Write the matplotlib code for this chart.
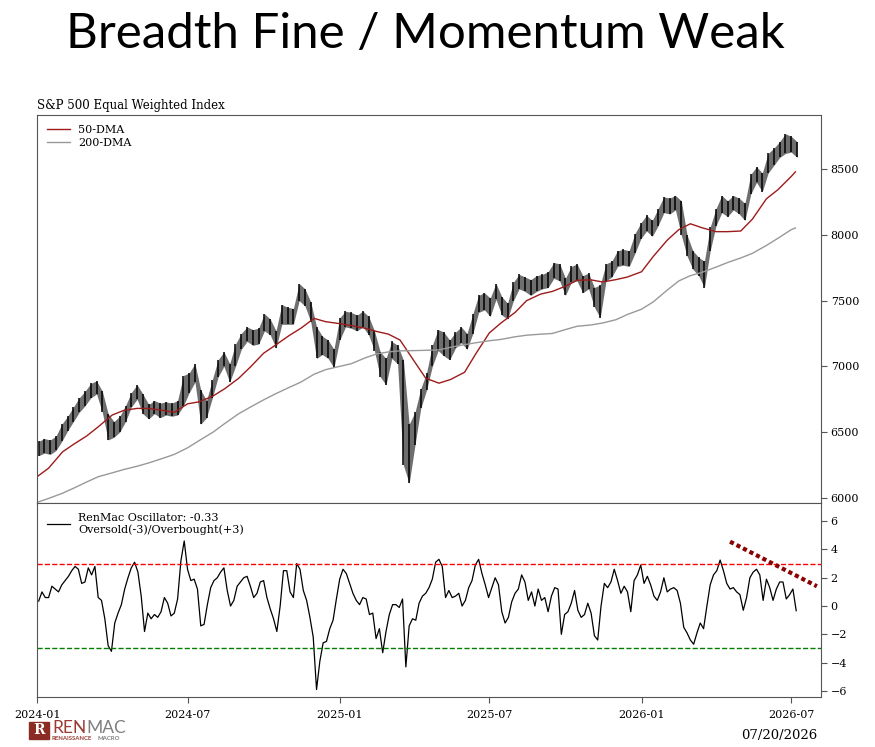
import pandas as pd
import matplotlib
matplotlib.use('Agg')
import matplotlib.pyplot as plt
import matplotlib.dates as mdates
from matplotlib.patches import Rectangle

plt.rcParams['font.family'] = ['DejaVu Serif']

# weekly bars (stamped on the Wednesday), S&P 500 equal weighted index
week_dates = pd.date_range('2024-01-03', periods=132, freq='W-WED')
week_high = [6430, 6450, 6440, 6470, 6560, 6620, 6690, 6760, 6810, 6870,
             6890, 6810, 6640, 6580, 6620, 6700, 6800, 6860, 6790, 6710,
             6740, 6720, 6730, 6720, 6740, 6930, 6950, 7020, 6820, 6740,
             6900, 7050, 7110, 7020, 7170, 7250, 7300, 7280, 7290, 7400,
             7360, 7270, 7470, 7450, 7440, 7630, 7590, 7490, 7300, 7230,
             7200, 7130, 7370, 7420, 7410, 7390, 7420, 7380, 7270, 7110,
             7060, 7190, 7160, 7050, 6560, 6650, 6830, 6950, 7160, 7280,
             7260, 7200, 7260, 7300, 7250, 7400, 7540, 7560, 7520, 7630,
             7530, 7480, 7640, 7700, 7680, 7660, 7690, 7700, 7720, 7790,
             7780, 7670, 7760, 7780, 7690, 7710, 7600, 7620, 7780, 7800,
             7880, 7890, 7880, 8010, 8090, 8150, 8110, 8200, 8290, 8280,
             8300, 8260, 8000, 7880, 7830, 7800, 8060, 8200, 8300, 8260,
             8300, 8280, 8240, 8460, 8520, 8470, 8620, 8660, 8710, 8770,
             8750, 8710]
week_low = [6320, 6340, 6330, 6360, 6430, 6510, 6580, 6650, 6700, 6760,
            6790, 6650, 6440, 6460, 6500, 6580, 6690, 6750, 6640, 6600,
            6640, 6610, 6630, 6620, 6630, 6700, 6800, 6880, 6560, 6610,
            6760, 6920, 7000, 6880, 7000, 7130, 7190, 7160, 7170, 7270,
            7240, 7140, 7320, 7320, 7320, 7500, 7460, 7340, 7060, 7090,
            7060, 6990, 7200, 7300, 7290, 7270, 7300, 7240, 7120, 6920,
            6860, 7060, 7020, 6250, 6110, 6400, 6680, 6820, 7000, 7120,
            7080, 7050, 7140, 7180, 7130, 7250, 7410, 7430, 7380, 7510,
            7390, 7360, 7500, 7590, 7570, 7540, 7570, 7590, 7600, 7670,
            7650, 7540, 7640, 7650, 7560, 7590, 7450, 7370, 7650, 7680,
            7760, 7770, 7760, 7860, 7970, 8030, 7990, 8070, 8170, 8160,
            8190, 8000, 7840, 7740, 7690, 7600, 7880, 8070, 8170, 8140,
            8190, 8160, 8110, 8310, 8400, 8330, 8470, 8530, 8590, 8620,
            8630, 8590]

# moving averages, read twice a month
ma_dates = list(pd.date_range('2024-01-01', '2026-07-01', freq='SMS')) + [pd.Timestamp('2026-07-06')]
ma50 = [6160, 6225, 6350, 6410, 6470, 6540, 6630, 6665, 6680, 6680, 6665, 6650,
        6715, 6730, 6775, 6830, 6910, 6995, 7100, 7160, 7235, 7290, 7365, 7340,
        7325, 7310, 7290, 7265, 7245, 7200, 7040, 6910, 6872, 6900, 6955, 7100,
        7255, 7330, 7410, 7500, 7550, 7570, 7610, 7655, 7658, 7642, 7660, 7680,
        7720, 7835, 7960, 8040, 8085, 8055, 8025, 8025, 8030, 8120, 8275, 8345,
        8445, 8480]
ma200 = [5965, 5995, 6035, 6075, 6120, 6160, 6190, 6215, 6240, 6265, 6300, 6330,
         6380, 6435, 6500, 6565, 6640, 6690, 6745, 6790, 6840, 6880, 6940, 6975,
         7000, 7020, 7065, 7095, 7110, 7118, 7120, 7122, 7125, 7145, 7165, 7180,
         7195, 7205, 7225, 7237, 7245, 7250, 7280, 7305, 7315, 7330, 7355, 7395,
         7435, 7490, 7580, 7650, 7690, 7715, 7755, 7790, 7825, 7860, 7920, 7975,
         8040, 8053]

# RenMac oscillator, read every 4 days
osc_dates = pd.date_range('2024-01-03', periods=230, freq='4D')
osc = [0.35, 1.0, 0.6, 0.6, 1.4, 1.2, 1.0, 1.5, 1.8, 2.1,
       2.5, 2.8, 2.6, 1.6, 1.7, 2.7, 2.2, 2.8, 0.6, 0.4,
       -0.9, -2.8, -3.2, -1.2, -0.5, 0.1, 1.2, 2.0, 2.7, 3.1,
       2.4, 0.7, -1.8, -0.5, -0.9, -0.6, -0.8, -0.4, 0.6, 0.2,
       -0.7, -0.5, 0.5, 3.2, 4.6, 2.6, 1.8, 1.9, 1.2, -1.4,
       -1.3, 0.1, 1.3, 1.8, 2.0, 2.4, 2.7, 1.1, 0.0, 0.4,
       1.4, 1.7, 2.0, 2.1, 1.4, 0.6, 0.9, 1.7, 1.8, 0.6,
       -0.2, -0.9, -1.8, 0.0, 2.5, 2.5, 1.0, 0.6, 3.0, 2.6,
       1.1, 0.4, -0.8, -2.2, -5.9, -3.9, -2.6, -2.5, -1.6, -1.0,
       0.5, 1.9, 2.6, 2.3, 1.6, 0.9, 0.4, 0.1, 0.6, 0.5,
       -0.6, -0.5, -2.3, -1.6, -3.3, -1.8, -0.6, 0.1, 0.1, -0.1,
       0.5, -4.3, -1.4, -0.9, -1.0, 0.2, 0.7, 0.9, 1.3, 1.9,
       3.1, 3.3, 2.8, 0.6, 1.1, 0.6, 0.7, 0.9, 0.0, 0.4,
       1.3, 1.8, 2.9, 3.3, 2.3, 1.5, 0.6, 1.3, 2.0, 1.5,
       -0.4, -1.2, -0.8, 0.3, 0.9, 1.2, 2.2, 1.7, 0.4, 1.0,
       0.0, 1.2, 0.4, 0.6, -0.4, 0.7, 1.3, 1.2, -2.0, -0.6,
       -0.4, 0.2, 1.1, -0.3, -0.8, -0.6, 0.2, -0.5, -2.1, -2.4,
       0.0, 1.6, 1.3, 1.7, 2.6, 1.8, 0.9, 1.4, 1.0, -0.4,
       1.8, 2.2, 2.9, 1.6, 2.1, 1.5, 0.7, 0.4, 1.0, 2.0,
       1.0, 1.2, 1.3, 1.1, 0.2, -1.5, -1.9, -2.4, -2.7, -1.9,
       -1.2, -1.6, 0.0, 1.5, 2.2, 2.5, 3.25, 2.5, 1.6, 1.2,
       1.3, 1.0, 0.8, -0.3, 0.6, 2.0, 2.4, 2.6, 2.2, 0.4,
       1.9, 1.3, 0.4, 1.2, 1.7, 1.7, 0.5, 0.8, 1.2, -0.33]

# hand drawn falling momentum line
trend_dates = pd.to_datetime(['2026-04-18', '2026-08-01'])
trend_vals = [4.55, 1.4]

spine_col = '#555555'

fig = plt.figure(figsize=(8.75, 7.47), dpi=100)
ax1 = fig.add_axes([0.0423, 0.3266, 0.896, 0.5195])
ax2 = fig.add_axes([0.0423, 0.0669, 0.896, 0.2597], sharex=ax1)

# price panel: weekly range ribbon with thin bars on top
ax1.fill_between(week_dates, week_low, week_high, color='#6e6e6e', lw=0)
ax1.vlines(week_dates, week_low, week_high, color='black', lw=1.1)
ax1.plot(ma_dates, ma50, color='#9e1b1b', lw=1.0, label='50-DMA')
ax1.plot(ma_dates, ma200, color='#999999', lw=1.0, label='200-DMA')
ax1.set_ylim(5960, 8913)
ax1.set_yticks([6000, 6500, 7000, 7500, 8000, 8500])
ax1.legend(loc='upper left', frameon=False, fontsize=8, handlelength=2.1,
           handletextpad=0.7, labelspacing=0.3)
ax1.set_title('S&P 500 Equal Weighted Index', loc='left', fontsize=8.5, pad=4)

# oscillator panel
ax2.plot(osc_dates, osc, color='black', lw=0.9,
         label='RenMac Oscillator: -0.33\nOversold(-3)/Overbought(+3)')
ax2.axhline(3, color='red', ls='--', lw=1)
ax2.axhline(-3, color='green', ls='--', lw=1)
ax2.plot(trend_dates, trend_vals, color='#8b0000', lw=3, ls=(0, (1, 0.75)))
ax2.set_ylim(-6.43, 7.28)
ax2.set_yticks([-6, -4, -2, 0, 2, 4, 6])
ax2.legend(loc='upper left', frameon=False, fontsize=8, handlelength=2.1,
           handletextpad=0.7)

ax2.set_xlim(pd.Timestamp('2024-01-01'), pd.Timestamp('2026-08-06'))
ax2.xaxis.set_major_locator(mdates.MonthLocator(bymonth=[1, 7]))
ax2.xaxis.set_major_formatter(mdates.DateFormatter('%Y-%m'))

for ax in (ax1, ax2):
    ax.yaxis.tick_right()
    ax.tick_params(axis='y', direction='out', length=4, color=spine_col,
                   labelsize=8, pad=3)
    for s in ax.spines.values():
        s.set_color(spine_col)
        s.set_linewidth(0.8)
ax1.tick_params(axis='x', bottom=False, labelbottom=False)
ax2.tick_params(axis='x', direction='out', length=4, color=spine_col,
                labelsize=8, pad=5)

# headline
fig.text(0.486, 0.955, 'Breadth Fine / Momentum Weak', ha='center', va='center',
         family='Lato', fontsize=35.5)

# logo and date
fig.patches.append(Rectangle((29 / 875, 1 - 739 / 747), 20 / 875, 17 / 747,
                             transform=fig.transFigure, color='#8c2d25'))
fig.text(39 / 875, 1 - 730.5 / 747, 'R', color='white', fontsize=10,
         ha='center', va='center', fontweight='bold')
fig.text(52 / 875, 1 - 728 / 747, 'REN', color='#9b3a33', fontsize=12.5,
         family='Lato', va='center')
fig.text(86 / 875, 1 - 728 / 747, 'MAC', color='#7f7f7f', fontsize=12.5,
         family='Lato', va='center')
fig.text(52 / 875, 1 - 738.5 / 747, 'RENAISSANCE', color='#9b3a33', fontsize=4.3,
         family='Lato', fontweight='bold', va='center')
fig.text(97 / 875, 1 - 738.5 / 747, 'MACRO', color='#7f7f7f', fontsize=4.3,
         family='Lato', fontweight='bold', va='center')
fig.text(817 / 875, 1 - 736 / 747, '07/20/2026', ha='right', va='center',
         fontsize=9.5)

fig.savefig('out.png', dpi=100)
